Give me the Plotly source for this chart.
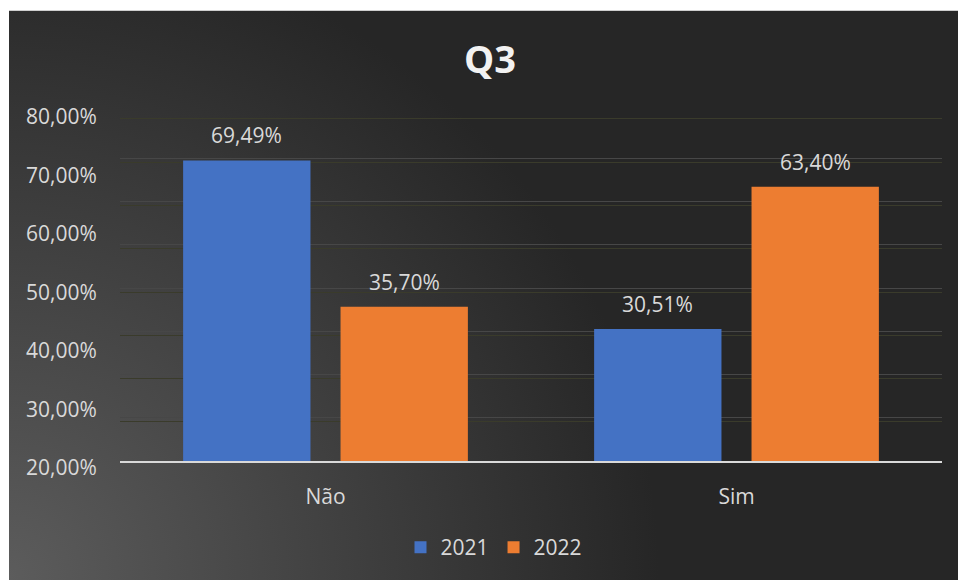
import base64
import plotly.graph_objects as go

# ---- data ----
categories = ["Não", "Sim"]
series_names = ["2021", "2022"]
values_2021 = [0.6949, 0.3051]
values_2022 = [0.3570, 0.6340]
axis_tick_values = [0.2, 0.3, 0.4, 0.5, 0.6, 0.7, 0.8]
title_text = "Q3"

colors = ["#4472C4", "#ED7D31"]
series_values = [values_2021, values_2022]

W, H = 958, 580
ML, MR, MT, MB = 120, 16, 110, 100
plot_w = W - ML - MR
plot_h = H - MT - MB
BARGAP = 0.234
BARGROUPGAP = 0.191
FONT = "Open Sans, Noto Sans, sans-serif"
TXT = "#d9d9d9"
FS = 21


def py(pix):
    """pixel y (from top) -> paper fraction"""
    return (H - MB - pix) / plot_h


def px(pix):
    """pixel x (from left) -> paper fraction"""
    return (pix - ML) / plot_w


fig = go.Figure()
for name, vals, col in zip(series_names, series_values, colors):
    fig.add_trace(go.Bar(
        x=categories, y=vals, name=name,
        marker=dict(color=col, line=dict(width=0)),
        hoverinfo="skip",
    ))

# invisible helper traces so the label axis and the shadow-grid axis render
fig.add_trace(go.Scatter(x=[categories[0]], y=[axis_tick_values[0]], yaxis="y2",
                         mode="markers", marker=dict(opacity=0), showlegend=False,
                         hoverinfo="skip"))
fig.add_trace(go.Scatter(x=[categories[0]], y=[axis_tick_values[0]], yaxis="y3",
                         mode="markers", marker=dict(opacity=0), showlegend=False,
                         hoverinfo="skip"))

# data labels
n = len(series_names)
cat_w = plot_w / len(categories)
slot = cat_w * (1 - BARGAP) / n
for i, vals in enumerate(series_values):
    for c, v in zip(categories, vals):
        fig.add_annotation(
            x=c, y=v, xref="x", yref="y",
            text=f"{v * 100:.2f}%".replace(".", ","),
            showarrow=False, yanchor="bottom", xanchor="center",
            xshift=(i - (n - 1) / 2) * slot, yshift=9,
            font=dict(family=FONT, size=FS, color=TXT),
        )

# background with radial gradient from bottom-left (extends past the page edge)
bx0, bx1, by0, by1 = 9, 990, 10, 610
bw, bh = bx1 - bx0, by1 - by0
svg = (f'<svg xmlns="http://www.w3.org/2000/svg" width="{bw}" height="{bh}">'
       '<defs><radialGradient id="g" gradientUnits="userSpaceOnUse" cx="0" cy="570" r="650">'
       '<stop offset="0" stop-color="#5c5c5c"/><stop offset="1" stop-color="#262626"/>'
       f'</radialGradient></defs><rect width="{bw}" height="{bh}" fill="url(#g)"/></svg>')
src = "data:image/svg+xml;base64," + base64.b64encode(svg.encode()).decode()
fig.add_layout_image(dict(
    source=src, xref="paper", yref="paper",
    x=px(bx0), y=py(by0),
    sizex=bw / plot_w, sizey=bh / plot_h,
    xanchor="left", yanchor="top", sizing="stretch", layer="below",
))

shadow = 4 / ((463 - 115) / 0.8)

fig.update_layout(
    width=W, height=H,
    margin=dict(l=ML, r=MR, t=MT, b=MB, pad=0),
    paper_bgcolor="white", plot_bgcolor="rgba(0,0,0,0)",
    separators=", ",
    barmode="group", bargap=BARGAP, bargroupgap=BARGROUPGAP,
    font=dict(family=FONT, color=TXT, size=FS),
    title=dict(text=title_text, x=490 / W, y=1 - 60 / H, xref="container", yref="container",
               xanchor="center", yanchor="middle",
               font=dict(family=FONT, size=38, color="#f2f2f2", weight="bold")),
    xaxis=dict(domain=[0, 1], anchor="y", showline=True, linecolor="#d9d9d9", linewidth=2,
               ticks="outside", ticklen=16, tickcolor="rgba(0,0,0,0)",
               tickfont=dict(size=FS, color=TXT), showgrid=False),
    yaxis=dict(domain=[py(463), py(115)], range=[0, 0.8], dtick=0.1,
               showticklabels=False, showgrid=True, gridcolor="#474747", gridwidth=1,
               zeroline=False),
    yaxis3=dict(overlaying="y", range=[shadow, 0.8 + shadow], dtick=0.1,
                showticklabels=False, showgrid=True, gridcolor="#3a3b2b", gridwidth=1,
                zeroline=False),
    yaxis2=dict(anchor="free", position=0, domain=[py(470), py(117)],
                range=[axis_tick_values[0], axis_tick_values[-1]],
                tickvals=axis_tick_values, tickformat=".2%",
                ticks="outside", ticklen=19, tickcolor="rgba(0,0,0,0)",
                showgrid=False, zeroline=False, showline=False,
                tickfont=dict(size=FS, color=TXT)),
    legend=dict(orientation="h", xref="paper", yref="paper",
                x=px(494), y=py(550), xanchor="center", yanchor="middle",
                font=dict(size=FS, color=TXT), bgcolor="rgba(0,0,0,0)",
                traceorder="normal"),
)

post = ("document.body.style.margin='0px';"
        "document.body.style.overflow='hidden';"
        "document.documentElement.style.overflow='hidden';"
        "document.body.style.height='580px';"
        "document.documentElement.style.height='580px';")
fig.write_html("out.html", post_script=post, config={"displayModeBar": False})
